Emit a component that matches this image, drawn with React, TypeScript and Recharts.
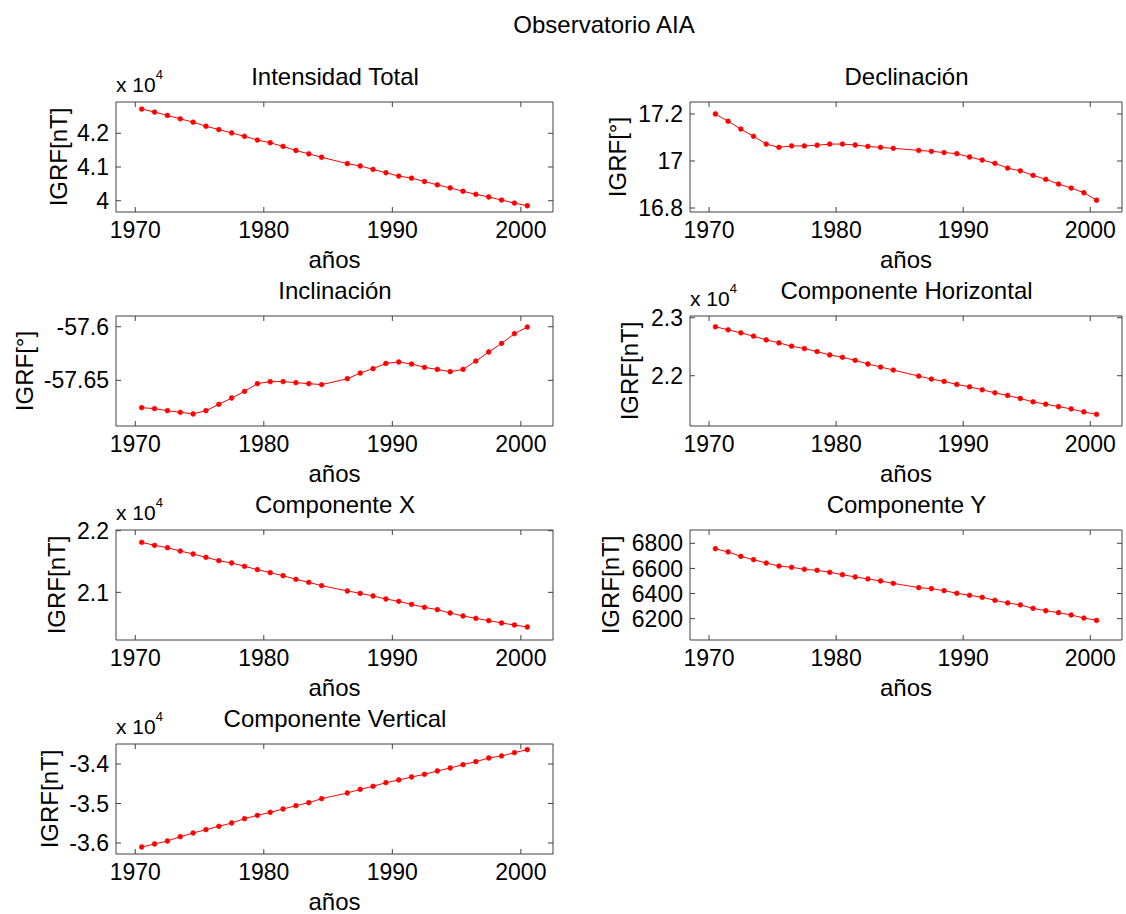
import React from "react";
import { LineChart, Line, XAxis, YAxis } from "recharts";

// epochs (1985.5 is missing in the source series)
const years = [
  1970.5, 1971.5, 1972.5, 1973.5, 1974.5, 1975.5, 1976.5, 1977.5, 1978.5, 1979.5,
  1980.5, 1981.5, 1982.5, 1983.5, 1984.5, 1986.5, 1987.5, 1988.5, 1989.5, 1990.5,
  1991.5, 1992.5, 1993.5, 1994.5, 1995.5, 1996.5, 1997.5, 1998.5, 1999.5, 2000.5,
];

const intensidadTotal = [
  42720, 42630, 42530, 42430, 42330, 42210, 42110, 42010, 41910, 41800,
  41720, 41610, 41490, 41390, 41290, 41100, 41030, 40930, 40830, 40730,
  40670, 40570, 40470, 40380, 40280, 40190, 40110, 40020, 39930, 39850,
];

const declinacion = [
  17.2, 17.169, 17.136, 17.105, 17.072, 17.058, 17.064, 17.064, 17.067, 17.072,
  17.072, 17.068, 17.062, 17.058, 17.054, 17.045, 17.041, 17.036, 17.031, 17.017,
  17.004, 16.99, 16.97, 16.958, 16.939, 16.922, 16.902, 16.885, 16.865, 16.833,
];

const inclinacion = [
  -57.6755, -57.6764, -57.6783, -57.6798, -57.6814, -57.6783, -57.6724, -57.6665, -57.6603, -57.6531,
  -57.6512, -57.6512, -57.6522, -57.6531, -57.654, -57.6485, -57.6432, -57.6391, -57.6342, -57.6329,
  -57.6348, -57.6379, -57.6398, -57.6419, -57.6398, -57.632, -57.6236, -57.6155, -57.6065, -57.6003,
];

const horizontal = [
  22844, 22792, 22740, 22682, 22618, 22566, 22509, 22468, 22416, 22358,
  22318, 22266, 22202, 22150, 22098, 21994, 21942, 21902, 21850, 21809,
  21757, 21705, 21659, 21607, 21549, 21509, 21468, 21428, 21376, 21335,
];

const componenteX = [
  21811, 21762, 21724, 21670, 21622, 21568, 21513, 21476, 21422, 21368,
  21319, 21270, 21211, 21162, 21108, 21022, 20984, 20941, 20892, 20854,
  20805, 20757, 20719, 20665, 20616, 20578, 20541, 20503, 20470, 20438,
];

const componenteY = [
  6757, 6731, 6696, 6670, 6643, 6619, 6609, 6593, 6585, 6569,
  6550, 6532, 6516, 6500, 6481, 6447, 6439, 6423, 6402, 6386,
  6370, 6346, 6325, 6309, 6282, 6263, 6248, 6229, 6205, 6186,
];

const vertical = [
  -36101, -36025, -35949, -35840, -35747, -35662, -35578, -35494, -35384, -35300,
  -35224, -35139, -35055, -34979, -34878, -34734, -34641, -34565, -34473, -34405,
  -34329, -34262, -34177, -34101, -34017, -33941, -33848, -33797, -33713, -33637,
];

const xTicks = [1970, 1980, 1990, 2000];
const xDomain = [1968.5, 2002.5];

const AXIS = "#404040";
const FONT = "'Liberation Sans', Arial, Helvetica, sans-serif";

const COL_L = [116, 554];
const COL_R = [690, 1123];
const ROW_TOP = [102, 316, 530, 744];
const BOX_H = 110;

type Panel = {
  title: string;
  ylabel: string;
  values: number[];
  domain: number[];
  ticks: number[];
  scaled: boolean;
  col: number[];
  top: number;
  labelDx: number;
};

const panels: Panel[] = [
  { title: "Intensidad Total", ylabel: "IGRF[nT]", values: intensidadTotal, domain: [39665, 42929], ticks: [40000, 41000, 42000], scaled: true, col: COL_L, top: ROW_TOP[0], labelDx: 58 },
  { title: "Declinación", ylabel: "IGRF[°]", values: declinacion, domain: [16.783, 17.251], ticks: [16.8, 17, 17.2], scaled: false, col: COL_R, top: ROW_TOP[0], labelDx: 73 },
  { title: "Inclinación", ylabel: "IGRF[°]", values: inclinacion, domain: [-57.6926, -57.59], ticks: [-57.65, -57.6], scaled: false, col: COL_L, top: ROW_TOP[1], labelDx: 92 },
  { title: "Componente Horizontal", ylabel: "IGRF[nT]", values: horizontal, domain: [21133, 23030], ticks: [22000, 23000], scaled: true, col: COL_R, top: ROW_TOP[1], labelDx: 61 },
  { title: "Componente X", ylabel: "IGRF[nT]", values: componenteX, domain: [20227, 22011], ticks: [21000, 22000], scaled: true, col: COL_L, top: ROW_TOP[2], labelDx: 60 },
  { title: "Componente Y", ylabel: "IGRF[nT]", values: componenteY, domain: [6030, 6906], ticks: [6200, 6400, 6600, 6800], scaled: false, col: COL_R, top: ROW_TOP[2], labelDx: 80 },
  { title: "Componente Vertical", ylabel: "IGRF[nT]", values: vertical, domain: [-36278, -33494], ticks: [-36000, -35000, -34000], scaled: true, col: COL_L, top: ROW_TOP[3], labelDx: 67 },
];

// chart margins around the plot box
const L = 112;
const R = 2;
const T = 16;
const B = 72;

function SubPlot({ p }: { p: Panel }) {
  const boxW = p.col[1] - p.col[0];
  const data = years.map((year, i) => ({ year, v: p.values[i] }));
  const fmt = (v: number) => (p.scaled ? String(v / 10000) : String(v));
  return (
    <div style={{ position: "absolute", left: p.col[0] - L, top: p.top - T }}>
      <LineChart
        width={L + boxW + R}
        height={T + BOX_H + B}
        data={data}
        margin={{ top: T - 1, right: R, bottom: 0, left: 0 }}
      >
        <XAxis
          xAxisId="b"
          dataKey="year"
          type="number"
          domain={xDomain}
          ticks={xTicks}
          allowDataOverflow
          interval={0}
          height={B}
          stroke={AXIS}
          tickSize={-5}
          tickMargin={15}
          tick={{ fill: "#000", fontSize: 23 }}
          label={{ value: "años", position: "insideBottom", offset: B - 56, fill: "#000", fontSize: 24 }}
        />
        <XAxis
          xAxisId="t"
          orientation="top"
          dataKey="year"
          type="number"
          domain={xDomain}
          ticks={xTicks}
          allowDataOverflow
          interval={0}
          height={1}
          stroke={AXIS}
          tickSize={-5}
          tickFormatter={() => ""}
        />
        <YAxis
          yAxisId="l"
          type="number"
          domain={p.domain}
          ticks={p.ticks}
          allowDataOverflow
          interval={0}
          width={L}
          stroke={AXIS}
          tickSize={-5}
          tickMargin={12}
          tickFormatter={fmt}
          tick={{ fill: "#000", fontSize: 23 }}
          label={{
            value: p.ylabel,
            angle: -90,
            position: "insideLeft",
            offset: L - p.labelDx,
            fill: "#000",
            fontSize: 24,
            style: { textAnchor: "middle" },
          }}
        />
        <YAxis
          yAxisId="r"
          orientation="right"
          type="number"
          domain={p.domain}
          ticks={p.ticks}
          allowDataOverflow
          interval={0}
          width={1}
          stroke={AXIS}
          tickSize={-5}
          tickFormatter={() => ""}
        />
        <Line
          xAxisId="b"
          yAxisId="l"
          dataKey="v"
          type="linear"
          stroke="#ff0000"
          strokeWidth={1}
          dot={{ r: 2.4, fill: "#ff0000", stroke: "#ff0000", strokeWidth: 0.6 }}
          activeDot={false}
          isAnimationActive={false}
        />
      </LineChart>
    </div>
  );
}

export default function App() {
  return (
    <div
      style={{
        position: "absolute",
        left: 0,
        top: 0,
        width: 1126,
        height: 914,
        overflow: "hidden",
        background: "#fff",
        fontFamily: FONT,
      }}
    >
      {panels.map((p) => (
        <SubPlot key={p.title} p={p} />
      ))}
      <svg
        width={1126}
        height={914}
        style={{ position: "absolute", left: 0, top: 0, pointerEvents: "none" }}
      >
        <text x={604} y={33} textAnchor="middle" fontSize={24} fill="#000">
          Observatorio AIA
        </text>
        {panels.map((p) => (
          <text
            key={p.title}
            x={(p.col[0] + p.col[1]) / 2}
            y={p.top - 17}
            textAnchor="middle"
            fontSize={24}
            fill="#000"
          >
            {p.title}
          </text>
        ))}
        {panels
          .filter((p) => p.scaled)
          .map((p) => (
            <text key={p.title + "-exp"} x={p.col[0]} y={p.top - 10} fontSize={21} fill="#000">
              x 10
              <tspan dy={-13} fontSize={13}>
                4
              </tspan>
            </text>
          ))}
      </svg>
    </div>
  );
}
